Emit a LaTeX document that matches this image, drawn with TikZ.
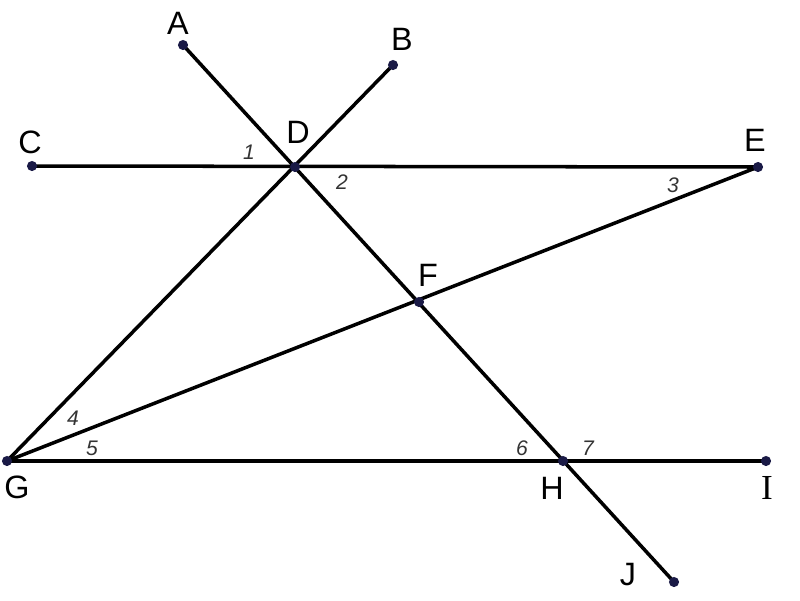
\documentclass[tikz,border=0pt]{standalone}
\usepackage{fontspec}
\setmainfont{Liberation Sans}
\newfontfamily\serifI{Liberation Serif}
\usepackage{tikz}
\usetikzlibrary{calc}
\definecolor{mDot}{HTML}{1A1A46}
\definecolor{mNum}{HTML}{333333}

\begin{document}
\begin{tikzpicture}[x=0.025cm, y=-0.025cm,
    seg/.style={line width=2.5pt, black},
    dot/.style={fill=mDot},
    pname/.style={inner sep=0pt, font=\fontsize{23}{25}\selectfont},
    anum/.style={inner sep=0pt, text=mNum, font=\fontsize{15}{17}\selectfont\itshape}
]
    \useasboundingbox (0,0) rectangle (800,600);

    % points
    \coordinate (A) at (183,45);
    \coordinate (B) at (393,65);
    \coordinate (C) at (32,166);
    \coordinate (D) at (295,167);
    \coordinate (E) at (758,167);
    \coordinate (F) at (419,302);
    \coordinate (G) at (7,461);
    \coordinate (H) at (563,461);
    \coordinate (I) at (766,461);
    \coordinate (J) at (674,582);

    % segments
    \draw[seg] (A) -- (J);
    \draw[seg] (B) -- (G);
    \draw[seg] (C) -- (E);
    \draw[seg] (E) -- (G);
    \draw[seg] (G) -- (I);

    \foreach \p in {A,B,C,D,E,F,G,H,I,J}
        \fill[dot] (\p) circle (3.6pt);

    % point names
    \node[pname] (lA) at (178,23) {A};
    \node[pname] (lB) at (402,39) {B};
    \node[pname] (lC) at (30,142) {C};
    \node[pname] (lD) at (298,132) {D};
    \node[pname] (lE) at (755,140) {E};
    \node[pname] (lF) at (428,275) {F};
    \node[pname] (lG) at (17,487) {G};
    \node[pname] (lH) at (552,488) {H};
    \node[pname, font=\fontsize{25}{27}\serifI] (lI) at (767,488) {I};
    \node[pname] (lJ) at (628,575) {J};

    % angle numbers
    \node[anum] (n1) at (249,152) {1};
    \node[anum] (n2) at (342,182) {2};
    \node[anum] (n3) at (673,185) {3};
    \node[anum] (n4) at (73,418) {4};
    \node[anum] (n5) at (92,448) {5};
    \node[anum] (n6) at (522,448) {6};
    \node[anum] (n7) at (588,448) {7};
\end{tikzpicture}
\end{document}
